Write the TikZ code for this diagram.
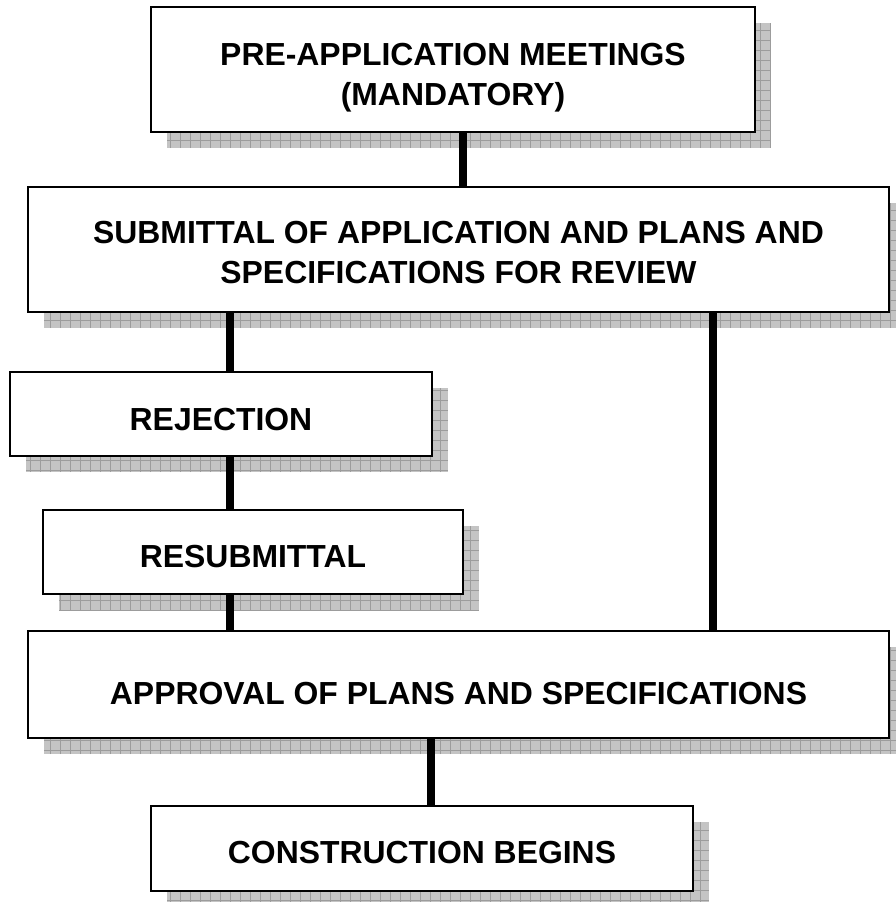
\documentclass[tikz,border=0pt]{standalone}
\usepackage{fontspec}
\setmainfont{Liberation Sans}
\pgfdeclarelayer{bg}
\pgfdeclarelayer{mid}
\pgfsetlayers{bg,mid,main}
\definecolor{shadowgray}{HTML}{C4C4C4}
\definecolor{gridgray}{HTML}{9C9C9C}
\tikzset{
  box/.style={rectangle, draw=black, line width=2.6pt, fill=white, inner sep=0pt, outer sep=0pt},
  txt/.style={inner sep=0pt, font=\fontsize{31.9}{38}\selectfont\bfseries, anchor=base},
  conn/.style={line width=8pt, draw=black},
  shadowfill/.style={fill=shadowgray},
  shadowgrid/.style={draw=gridgray, line width=0.7pt, step=10pt},
}
\newcommand\dropshadow[1]{%
  \begin{scope}
    \clip (0,0) rectangle (896,902);
    \clip ([shift={(16pt,-16pt)}]#1.south west) rectangle ([shift={(16pt,-16pt)}]#1.north east);
    \fill[shadowfill] ([shift={(16pt,-16pt)}]#1.south west) rectangle ([shift={(16pt,-16pt)}]#1.north east);
    \draw[shadowgrid] ([shift={(16pt,-16pt)}]#1.south west) grid ([shift={(16pt,-16pt)}]#1.north east);
  \end{scope}}
\begin{document}
\begin{tikzpicture}[x=1pt,y=-1pt]
\useasboundingbox (0,0) rectangle (896,902);
% boxes
\node[box, minimum width=604pt, minimum height=125pt] (b1) at (453,69.5) {};
\node[box, minimum width=861pt, minimum height=125pt] (b2) at (458.5,249.5) {};
\node[box, minimum width=422pt, minimum height=84pt] (rej) at (221,414) {};
\node[box, minimum width=420pt, minimum height=84pt] (res) at (253,552) {};
\node[box, minimum width=861pt, minimum height=107pt] (app) at (458.5,684.5) {};
\node[box, minimum width=542pt, minimum height=85pt] (con) at (422,848.5) {};
% texts
\node[txt] (t1a) at (453,65) {PRE-APPLICATION MEETINGS};
\node[txt] (t1b) at (453,105.5) {(MANDATORY)};
\node[txt] (t2a) at (458.5,243) {SUBMITTAL OF APPLICATION AND PLANS AND};
\node[txt] (t2b) at (458.5,283) {SPECIFICATIONS FOR REVIEW};
\node[txt] (trej) at (221,430) {REJECTION};
\node[txt] (tres) at (253,567) {RESUBMITTAL};
\node[txt] (tapp) at (458.5,704) {APPROVAL OF PLANS AND SPECIFICATIONS};
\node[txt] (tcon) at (422,863) {CONSTRUCTION BEGINS};
% shadows
\begin{pgfonlayer}{bg}
  \dropshadow{b1}
  \dropshadow{b2}
  \dropshadow{rej}
  \dropshadow{res}
  \dropshadow{app}
  \dropshadow{con}
\end{pgfonlayer}
% connectors
\coordinate (cA) at (463,0);
\coordinate (cL) at (230,0);
\coordinate (cR) at (713,0);
\coordinate (cB) at (431,0);
\begin{pgfonlayer}{mid}
  \draw[conn] (b1.south -| cA) -- (b2.north -| cA);
  \draw[conn] (b2.south -| cL) -- (rej.north -| cL);
  \draw[conn] (rej.south -| cL) -- (res.north -| cL);
  \draw[conn] (res.south -| cL) -- (app.north -| cL);
  \draw[conn] (b2.south -| cR) -- (app.north -| cR);
  \draw[conn] (app.south -| cB) -- (con.north -| cB);
\end{pgfonlayer}
\end{tikzpicture}
\end{document}
